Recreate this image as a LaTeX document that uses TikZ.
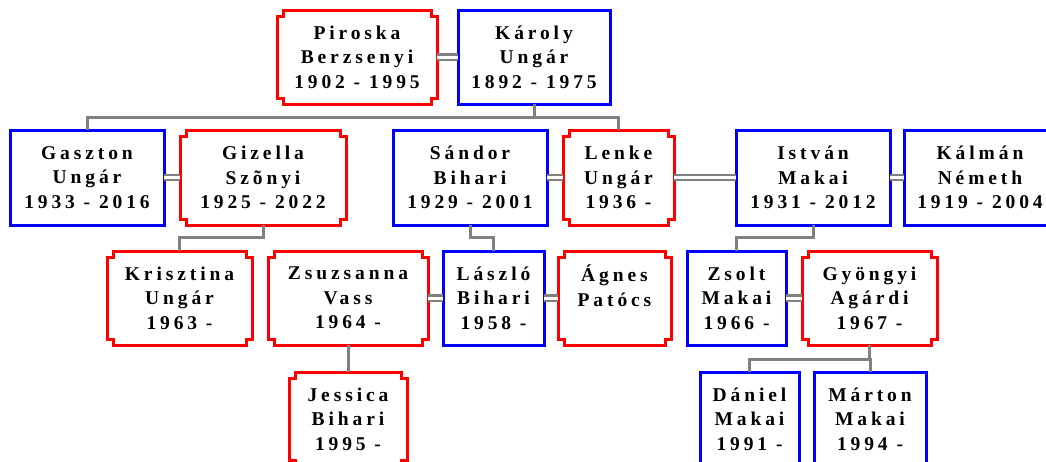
\documentclass[tikz,border=0pt]{standalone}
\usepackage{fontspec}
\newfontfamily\boxfont[LetterSpace=20]{Liberation Serif}
\definecolor{boxred}{RGB}{255,0,0}
\definecolor{boxblue}{RGB}{0,0,255}
\definecolor{linkgray}{RGB}{128,128,128}
\begin{document}
\begin{tikzpicture}[x=1pt,y=-1pt,
  person/.style={rectangle, inner sep=0pt, outer sep=0pt, align=center,
    font=\boxfont\bfseries\fontsize{19.5}{24.5}\selectfont},
  bluebox/.style={person, draw=boxblue, line width=3pt},
  redbox/.style={person, draw=none},
  redline/.style={draw=boxred, line width=3pt, line join=miter},
  conn/.style={draw=linkgray, line width=3pt},
  marriage/.style={draw=linkgray, line width=2.2pt, double=white, double distance=3pt}]
\fill[white] (0,0) rectangle (1046,461);
\useasboundingbox (0,0) rectangle (1046,461);
\clip (0,0) rectangle (1046,461);

% generation 1
\node[redbox, minimum width=160pt, minimum height=94pt] (piroska) at (357,57) {Piroska\\Berzsenyi\\1902 - 1995};
\node[bluebox, minimum width=152pt, minimum height=94pt] (karoly) at (534,57) {Károly\\Ungár\\1892 - 1975};

% generation 2
\node[bluebox, minimum width=154pt, minimum height=95pt] (gaszton) at (87,177.5) {Gaszton\\Ungár\\1933 - 2016};
\node[redbox, minimum width=166pt, minimum height=95pt] (gizella) at (263,177.5) {Gizella\\Szõnyi\\1925 - 2022};
\node[bluebox, minimum width=154pt, minimum height=95pt] (sandor) at (470,177.5) {Sándor\\Bihari\\1929 - 2001};
\node[redbox, minimum width=111pt, minimum height=95pt] (lenke) at (618.5,177.5) {Lenke\\Ungár\\1936 -};
\node[bluebox, minimum width=154pt, minimum height=95pt] (istvan) at (813,177.5) {István\\Makai\\1931 - 2012};
\node[bluebox, minimum width=152pt, minimum height=95pt] (kalman) at (980,177.5) {Kálmán\\Németh\\1919 - 2004};

% generation 3
\node[redbox, minimum width=145pt, minimum height=94pt] (krisztina) at (179.5,298) {Krisztina\\Ungár\\1963 -};
\node[redbox, minimum width=160pt, minimum height=94pt] (zsuzsanna) at (348,298) {Zsuzsanna\\Vass\\1964 -};
\node[bluebox, minimum width=101pt, minimum height=94pt] (laszlo) at (493.5,298) {László\\Bihari\\1958 -};
\node[redbox, minimum width=113pt, minimum height=94pt] (agnes) at (614.5,298) {Ágnes\\Patócs\\\mbox{}};
\node[bluebox, minimum width=99pt, minimum height=94pt] (zsolt) at (736.5,298) {Zsolt\\Makai\\1966 -};
\node[redbox, minimum width=135pt, minimum height=94pt] (gyongyi) at (869.5,298) {Gyöngyi\\Agárdi\\1967 -};

% generation 4
\node[redbox, minimum width=118pt, minimum height=94pt] (jessica) at (348,419) {Jessica\\Bihari\\1995 -};
\node[bluebox, minimum width=99pt, minimum height=94pt] (daniel) at (749.5,419) {Dániel\\Makai\\1991 -};
\node[bluebox, minimum width=112pt, minimum height=94pt] (marton) at (870,419) {Márton\\Makai\\1994 -};

% notched outline for the red boxes
\foreach \n in {piroska,gizella,lenke,krisztina,zsuzsanna,agnes,gyongyi,jessica}{
  \draw[redline] ([yshift=-6pt]\n.north west) -- ++(6pt,0) -- ++(0,6pt)
    -- ([xshift=-6pt]\n.north east) -- ++(0,-6pt) -- ++(6pt,0)
    -- ([yshift=6pt]\n.south east) -- ++(-6pt,0) -- ++(0,-6pt)
    -- ([xshift=6pt]\n.south west) -- ++(0,6pt) -- ++(-6pt,0) -- cycle;
}

% marriages
\draw[marriage] (piroska.east) -- (karoly.west);
\draw[marriage] (gaszton.east) -- (gizella.west);
\draw[marriage] (sandor.east) -- (lenke.west);
\draw[marriage] (lenke.east) -- (istvan.west);
\draw[marriage] (istvan.east) -- (kalman.west);
\draw[marriage] (zsuzsanna.east) -- (laszlo.west);
\draw[marriage] (laszlo.east) -- (agnes.west);
\draw[marriage] (zsolt.east) -- (gyongyi.west);

% descent lines
\draw[conn] (karoly.south) -- ++(0,-13pt) coordinate (kbus);
\draw[conn] (kbus) -| (gaszton.north);
\draw[conn] (kbus) -| (lenke.north);
\draw[conn] (gizella.south) -- ++(0,-12pt) -| (krisztina.north);
\draw[conn] (sandor.south) -- ++(0,-12pt) -| (laszlo.north);
\draw[conn] (istvan.south) -- ++(0,-12pt) -| (zsolt.north);
\draw[conn] (zsuzsanna.south) -- (jessica.north);
\draw[conn] (gyongyi.south) -- ++(0,-14pt) coordinate (gbus);
\draw[conn] (gbus) -| (daniel.north);
\draw[conn] (gbus) -| (marton.north);
\end{tikzpicture}
\end{document}
